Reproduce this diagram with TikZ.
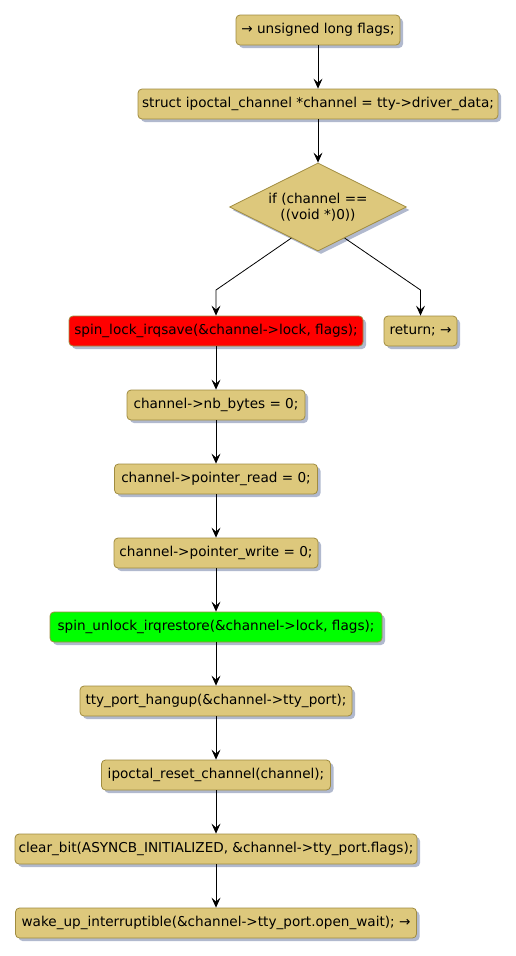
\documentclass[tikz,border=0pt]{standalone}
\usepackage{fontspec}
\setmainfont{DejaVu Sans}
\usetikzlibrary{shapes.geometric,arrows.meta,shadows,calc}
\definecolor{boxfill}{HTML}{DDC87C}
\definecolor{boxline}{HTML}{A08C40}
\definecolor{shadowc}{HTML}{A3ADC6}
\begin{document}
\begin{tikzpicture}[x=1pt,y=-1pt,
  base/.style={draw=boxline, fill=boxfill, line width=0.8pt,
    font=\fontsize{13.6}{16}\selectfont,
    drop shadow={shadow xshift=3pt, shadow yshift=-3pt, fill=shadowc, opacity=0.85}},
  act/.style={base, rounded corners=4pt, minimum height=30pt, inner xsep=2pt, inner ysep=0pt},
  dec/.style={base, shape=diamond, aspect=2, minimum width=177pt, minimum height=88pt, inner sep=0pt, align=center},
  arr/.style={draw=black, line width=0.8pt, -{Stealth[length=10pt,width=9pt,inset=4pt]}}]
\useasboundingbox (0,0) rectangle (516,956);
\node[act, minimum width=164pt] (n1) at (318,30) {→ unsigned long flags;};
\node[act, minimum width=360pt] (n2) at (318,104) {struct ipoctal\_channel *channel = tty->driver\_data;};
\node[dec] (d) at (318,207) {if (channel ==\\((void *)0))};
\node[act, fill=red, minimum width=294pt] (n3) at (216,331) {spin\_lock\_irqsave(\&channel->lock, flags);};
\node[act, minimum width=73pt] (r) at (420.5,331) {return; →};
\node[act, minimum width=178pt] (n4) at (216,405) {channel->nb\_bytes = 0;};
\node[act, minimum width=203pt] (n5) at (216,479) {channel->pointer\_read = 0;};
\node[act, minimum width=204pt] (n6) at (216,553) {channel->pointer\_write = 0;};
\node[act, fill=green, minimum width=332pt] (n7) at (216,627) {spin\_unlock\_irqrestore(\&channel->lock, flags);};
\node[act, minimum width=272pt] (n8) at (216,701) {tty\_port\_hangup(\&channel->tty\_port);};
\node[act, minimum width=229pt] (n9) at (216,775) {ipoctal\_reset\_channel(channel);};
\node[act, minimum width=402pt] (n10) at (216,849) {clear\_bit(ASYNCB\_INITIALIZED, \&channel->tty\_port.flags);};
\node[act, minimum width=401pt] (n11) at (216,923) {wake\_up\_interruptible(\&channel->tty\_port.open\_wait); →};
\coordinate (lb) at (216,290);
\coordinate (rb) at (420.5,290);
\draw[arr] (n1) -- (n2);
\draw[arr] (n2) -- (d);
\draw[arr] ($(d.west)!0.7!(d.south)$) -- (lb) -- (n3);
\draw[arr] ($(d.east)!0.7!(d.south)$) -- (rb) -- (r);
\draw[arr] (n3) -- (n4);
\draw[arr] (n4) -- (n5);
\draw[arr] (n5) -- (n6);
\draw[arr] (n6) -- (n7);
\draw[arr] (n7) -- (n8);
\draw[arr] (n8) -- (n9);
\draw[arr] (n9) -- (n10);
\draw[arr] (n10) -- (n11);
\end{tikzpicture}
\end{document}
